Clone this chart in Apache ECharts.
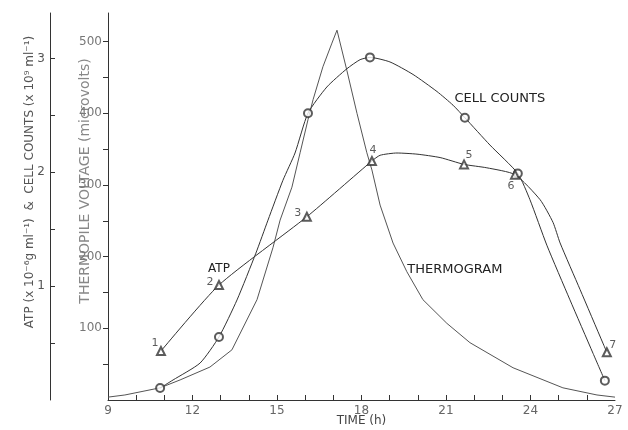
<!DOCTYPE html>
<html>
<head>
<meta charset="utf-8">
<script src="https://cdn.jsdelivr.net/npm/echarts@6/dist/echarts.min.js"></script>
<style>
  html, body { margin: 0; padding: 0; background: #fff; }
  #chart { width: 628px; height: 430px; }
</style>
</head>
<body>
<div id="chart"></div>
<script>
// axes
var timeTicks = [10, 11, 12, 13, 14, 15, 16, 17, 18, 19, 20, 21, 22, 23, 24, 25, 26];
var timeLabels = [9, 12, 15, 18, 21, 24, 27];
var voltTicks = [50, 100, 150, 200, 250, 300, 350, 400, 450, 500];
var voltLabels = [100, 200, 300, 400, 500];
var countTicks = [0.5, 1, 1.5, 2, 2.5, 3];
var countLabels = [1, 2, 3];

// measured samples (circles = cell counts, triangles = ATP)
var cellTime = [10.85, 12.94, 16.1, 18.3, 21.67, 23.55, 26.64];
var cellCount = [0.105, 0.554, 2.52, 3.01, 2.48, 1.99, 0.17];
var atpTime = [10.88, 12.94, 16.06, 18.37, 21.64, 23.45, 26.71];
var atpConc = [0.43, 1.01, 1.61, 2.10, 2.07, 1.98, 0.42];

// drawn curves
var cellCurveTime = [10.85, 11.31, 12.27, 12.94, 13.58, 14.25, 14.68, 15.21, 15.64, 16.1, 16.77, 17.48, 17.95, 18.3,
  19.01, 19.83, 20.68, 21.25, 21.67, 22.56, 23.55, 23.98, 24.58, 25.4, 26.22, 26.64];
var cellCurveCount = [0.105, 0.176, 0.325, 0.554, 0.879, 1.29, 1.58, 1.93, 2.17, 2.52, 2.75, 2.91, 2.99, 3.01,
  2.97, 2.86, 2.71, 2.59, 2.48, 2.24, 1.99, 1.76, 1.36, 0.88, 0.41, 0.17];
var atpCurveTime = [10.88, 12.94, 16.06, 18.37, 18.66, 19.26, 19.97, 20.79, 21.64, 22.45, 23.45,
  24.34, 24.8, 25.05, 25.76, 26.57, 26.71];
var atpCurveConc = [0.43, 1.01, 1.61, 2.10, 2.15, 2.17, 2.16, 2.13, 2.07, 2.04, 1.98,
  1.76, 1.56, 1.38, 0.97, 0.50, 0.42];
var thermoTime = [9.0, 9.6, 10.85, 11.56, 12.62, 13.4, 14.29, 14.86, 15.11, 15.53, 15.82, 16.1, 16.28, 16.63, 16.95, 17.13,
  17.48, 17.84, 18.19, 18.37, 18.66, 19.12, 19.61, 20.18, 21.03, 21.85, 23.38, 25.15, 26.36, 27.0];
var thermoVolt = [4, 7, 17, 28, 46, 70, 140, 213, 251, 297, 345, 391, 419, 465, 498, 516,
  460, 400, 345, 321, 272, 219, 179, 140, 107, 80, 45, 17, 7, 4];

// where the sample numbers sit around each triangle
var atpNumOffset = [[-6, -8], [-9, -3], [-9, -4], [1, -11], [5, -9], [-4, 12], [6, -7]];

function zip(a, b) {
  return a.map(function (v, i) { return [v, b[i]]; });
}

var FONT = 'DejaVu Sans';
var INK = '#333';
var chart = echarts.init(document.getElementById('chart'));

chart.setOption({
  animation: false,
  backgroundColor: '#fff',
  textStyle: { fontFamily: FONT },
  grid: { left: 108, right: 13, top: 13, bottom: 30, containLabel: false, outerBoundsMode: 'none' },
  xAxis: {
    type: 'value', min: 9, max: 27,
    name: 'TIME (h)', nameLocation: 'middle', nameGap: 15, nameMoveOverlap: false,
    nameTextStyle: { color: '#444', fontSize: 12, fontFamily: FONT },
    axisLine: { lineStyle: { color: INK, width: 1 } },
    axisTick: { inside: true, length: 5, customValues: timeTicks, lineStyle: { color: INK } },
    axisLabel: { customValues: timeLabels, margin: 5, color: '#666', fontSize: 12, fontFamily: FONT },
    splitLine: { show: false }
  },
  yAxis: [{
    type: 'value', min: 0, max: 540, position: 'left',
    axisLine: { show: true, lineStyle: { color: INK, width: 1 } },
    axisTick: { show: true, inside: false, length: 5, customValues: voltTicks, lineStyle: { color: INK } },
    axisLabel: { customValues: voltLabels, margin: 6, color: '#777', fontSize: 12, fontFamily: FONT },
    splitLine: { show: false }
  }, {
    type: 'value', min: 0, max: 3.4, position: 'left', offset: 58,
    axisLine: { show: true, lineStyle: { color: INK, width: 1 } },
    axisTick: { show: true, inside: true, length: 5, customValues: countTicks, lineStyle: { color: INK } },
    axisLabel: { customValues: countLabels, margin: 5, color: '#555', fontSize: 12, fontFamily: FONT },
    splitLine: { show: false }
  }],
  graphic: [{
    type: 'text', x: 30, y: 182, rotation: Math.PI / 2,
    style: {
      text: 'ATP (x 10\u207B\u2076g ml\u207B\u00B9)  &  CELL COUNTS (x 10\u2079 ml\u207B\u00B9)',
      fill: '#555', font: '12px "DejaVu Sans"', align: 'center', verticalAlign: 'middle',
      textAlign: 'center', textVerticalAlign: 'middle'
    }
  }, {
    type: 'text', x: 85, y: 181, rotation: Math.PI / 2,
    style: {
      text: 'THERMOPILE VOLTAGE (microvolts)',
      fill: '#888', font: '14px "DejaVu Sans"', align: 'center', verticalAlign: 'middle',
      textAlign: 'center', textVerticalAlign: 'middle'
    }
  }],
  series: [{
    name: 'Thermogram', type: 'line', yAxisIndex: 0,
    data: zip(thermoTime, thermoVolt),
    symbol: 'none', smooth: false,
    lineStyle: { color: '#555', width: 1 },
    markPoint: {
      symbol: 'circle', symbolSize: 1, itemStyle: { color: 'rgba(0,0,0,0)' },
      label: { show: true, formatter: '{b}', color: '#222', fontSize: 13, fontFamily: FONT, offset: [48, -2] },
      data: [{ name: 'THERMOGRAM', coord: [thermoTime[22], thermoVolt[22]] }]
    }
  }, {
    name: 'Cell counts', type: 'line', yAxisIndex: 1,
    data: zip(cellCurveTime, cellCurveCount),
    symbol: 'none', smooth: 0.2,
    lineStyle: { color: INK, width: 1 },
    markPoint: {
      symbol: 'circle', symbolSize: 1, itemStyle: { color: 'rgba(0,0,0,0)' },
      label: { show: true, formatter: '{b}', color: '#222', fontSize: 13, fontFamily: FONT, offset: [35, -19] },
      data: [{ name: 'CELL COUNTS', coord: [cellTime[4], cellCount[4]] }]
    }
  }, {
    name: 'ATP', type: 'line', yAxisIndex: 1,
    data: zip(atpCurveTime, atpCurveConc),
    symbol: 'none', smooth: 0.2,
    lineStyle: { color: INK, width: 1 },
    markPoint: {
      symbol: 'circle', symbolSize: 1, itemStyle: { color: 'rgba(0,0,0,0)' },
      label: { show: true, formatter: '{b}', color: '#222', fontSize: 12, fontFamily: FONT, offset: [0, -16] },
      data: [{ name: 'ATP', coord: [atpTime[1], atpConc[1]] }]
    }
  }, {
    name: 'Cell samples', type: 'scatter', yAxisIndex: 1,
    data: zip(cellTime, cellCount),
    symbol: 'emptyCircle', symbolSize: 8,
    itemStyle: { color: INK, borderColor: INK, borderWidth: 1 },
    z: 5
  }, {
    name: 'ATP samples', type: 'scatter', yAxisIndex: 1,
    data: atpTime.map(function (t, i) {
      return {
        value: [t, atpConc[i]],
        label: { offset: atpNumOffset[i] }
      };
    }),
    symbol: 'emptyTriangle', symbolSize: 8,
    itemStyle: { color: INK, borderColor: INK, borderWidth: 1 },
    label: {
      show: true, position: 'inside', color: '#333', fontSize: 11, fontFamily: FONT,
      formatter: function (p) { return String(p.dataIndex + 1); }
    },
    z: 5
  }]
});
</script>
</body>
</html>
